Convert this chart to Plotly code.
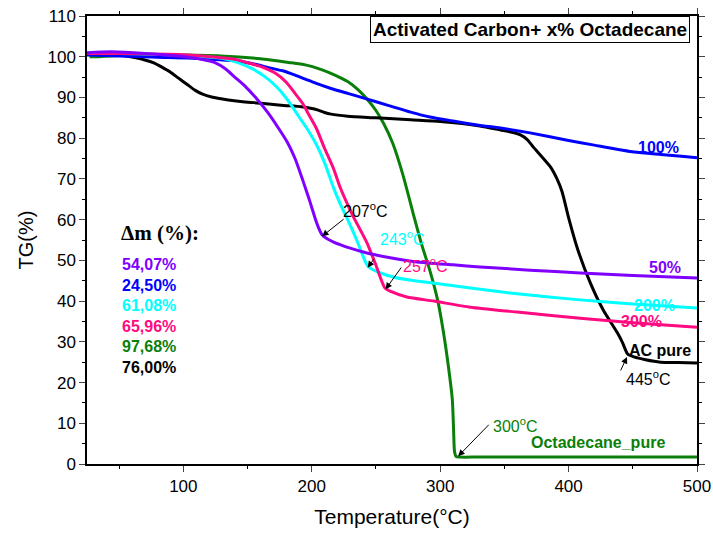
import plotly.graph_objects as go

# ---- data ----
T_ac = [25, 40, 51.5, 60, 70, 77, 83, 90, 96, 103, 109, 115, 122, 135, 148, 160.6, 176, 192, 198, 205, 210, 215, 228, 250, 277, 300, 331, 347, 355, 362.5, 368, 372.6, 379, 386, 391, 395, 400, 407, 417, 427, 438, 442, 446, 451, 460, 471.6, 485, 500]
TG_ac = [100.7, 100.7, 100.4, 99.9, 99.2, 98.5, 97.5, 96.2, 94.8, 93.2, 91.8, 90.8, 90.1, 89.4, 88.9, 88.6, 88.1, 87.7, 87.4, 86.9, 86.3, 85.9, 85.4, 85.0, 84.5, 84.1, 83.0, 82.0, 81.5, 80.8, 79.6, 77.8, 75.5, 72.9, 70.0, 66.8, 60.5, 52.8, 44.4, 37.8, 32.2, 29.8, 27.0, 26.3, 25.6, 25.0, 24.9, 24.8]

T_100 = [25, 50, 80, 104, 125, 143, 155, 168, 178, 187, 195, 203, 215, 228, 240, 260, 277, 292, 310, 330, 347, 370, 399, 420, 451, 472, 490, 500]
TG_100 = [100.4, 100.2, 99.9, 99.7, 99.3, 98.9, 98.2, 97.2, 96.5, 95.5, 94.5, 93.5, 92.2, 91.0, 89.9, 88.0, 86.4, 85.2, 84.2, 83.2, 82.5, 81.3, 79.5, 78.3, 76.6, 76.0, 75.5, 75.2]

T_50 = [25, 44, 70, 104, 115, 125, 133, 140, 148, 156, 166, 174, 181, 187, 193, 198, 203, 206, 208, 212, 217, 230, 243, 260, 282, 310, 331, 370, 409, 450, 500]
TG_50 = [101.0, 101.2, 100.8, 99.9, 99.3, 98.5, 97.0, 95.0, 92.8, 90.1, 86.2, 82.5, 79.0, 75.0, 69.7, 65.0, 60.0, 57.5, 56.3, 55.3, 54.5, 53.0, 51.8, 50.7, 49.6, 48.9, 48.4, 47.6, 46.9, 46.3, 45.7]

T_200 = [25, 50, 100, 130, 143, 154, 164, 172, 179, 185, 189.5, 196, 203, 210, 217, 222, 228, 235, 240, 243, 246, 253.5, 265, 280, 300, 323.5, 360, 409, 450, 500]
TG_200 = [100.8, 100.8, 100.3, 99.6, 98.5, 97.0, 95.0, 92.8, 90.3, 87.7, 85.5, 82.5, 78.8, 74.0, 67.8, 64.0, 60.0, 55.0, 51.0, 48.9, 48.0, 46.9, 45.8, 45.0, 44.2, 43.2, 41.8, 40.3, 39.3, 38.3]

T_300 = [25, 50, 100, 140, 150.5, 162, 171.5, 180, 187, 193, 197, 203.5, 210, 217, 222, 232, 243, 250, 257, 262, 274, 295, 323.5, 360, 409, 450, 500]
TG_300 = [100.8, 100.8, 100.5, 99.4, 98.5, 97.4, 96.0, 93.8, 91.0, 88.5, 86.2, 82.5, 77.5, 72.5, 68.0, 61.0, 54.3, 48.8, 43.2, 42.3, 41.0, 40.0, 38.5, 37.3, 35.8, 34.7, 33.6]

T_oct = [27, 33, 60, 100, 129, 160, 182, 195, 207, 218, 228, 236, 243, 250, 256, 263, 271, 279, 286, 292, 298, 302.5, 306.4, 309.5, 310.5, 311.2, 312.5, 315, 330, 400, 500]
TG_oct = [100.0, 100.0, 100.5, 100.4, 100.2, 99.5, 98.6, 98.0, 96.9, 95.5, 93.9, 91.9, 89.6, 86.8, 83.6, 78.8, 71.0, 61.5, 53.5, 47.5, 40.3, 32.5, 24.0, 15.7, 8.0, 3.0, 1.8, 1.7, 1.7, 1.7, 1.7]

series = [
    ("Octadecane_pure", T_oct, TG_oct, "#0a800a"),
    ("AC pure", T_ac, TG_ac, "#000000"),
    ("100%", T_100, TG_100, "#0000ff"),
    ("200%", T_200, TG_200, "#00ffff"),
    ("300%", T_300, TG_300, "#ff0a80"),
    ("50%", T_50, TG_50, "#8000ff"),
]

dm_labels = ["54,07%", "24,50%", "61,08%", "65,96%", "97,68%", "76,00%"]
dm_colors = ["#8000ff", "#0000ff", "#00ffff", "#ff0a80", "#0a800a", "#000000"]

x_ticks = [100, 200, 300, 400, 500]
y_ticks = list(range(0, 111, 10))

fig = go.Figure()
for name, xs, ys, col in series:
    fig.add_trace(go.Scatter(x=xs, y=ys, mode="lines", name=name,
                             line=dict(color=col, width=3, shape="spline", smoothing=0.6),
                             showlegend=False))

ann = []
F = "Liberation Sans, Arial, sans-serif"
# curve labels
curve_labels = [
    ("100%", 470, 77.8, "#0000ff"),
    ("50%", 475, 48.3, "#8000ff"),
    ("200%", 467, 39.0, "#00ffff"),
    ("300%", 457, 35.0, "#ff0a80"),
    ("AC pure", 471, 27.8, "#000000"),
    ("Octadecane_pure", 423, 5.2, "#0a800a"),
]
for t, x, y, c in curve_labels:
    ann.append(dict(x=x, y=y, text="<b>%s</b>" % t, showarrow=False,
                    font=dict(family=F, size=16, color=c)))

# temperature annotations (text)
temp_txt = [
    ("207<sup>o</sup>C", 242, 62.4, "#000000"),
    ("243<sup>o</sup>C", 270.5, 55.4, "#00ffff"),
    ("257<sup>o</sup>C", 288.5, 48.8, "#ff0a80"),
    ("445<sup>o</sup>C", 462, 21.0, "#000000"),
    ("300<sup>o</sup>C", 359, 9.6, "#0a800a"),
]
for t, x, y, c in temp_txt:
    ann.append(dict(x=x, y=y, text=t, showarrow=False,
                    font=dict(family=F, size=16, color=c)))

# arrows: (tail_x, tail_y, head_x, head_y)
arrows = [
    (226, 60.4, 208, 55.9),
    (249.5, 50.8, 243.5, 48.2),
    (270.5, 48.6, 257.5, 42.9),
    (440, 22.6, 445.5, 26.3),
    (339, 10.0, 314, 1.9),
]
for tx, ty, hx, hy in arrows:
    ann.append(dict(x=hx, y=hy, ax=tx, ay=ty, axref="x", ayref="y", xref="x", yref="y",
                    text="", showarrow=True, arrowhead=2, arrowsize=1.3, arrowwidth=1,
                    arrowcolor="#000000", standoff=0, startstandoff=0))

# Delta m block
ann.append(dict(x=50, y=56.8, xanchor="left", text="<b>Δm (%):</b>", showarrow=False,
                font=dict(family="Liberation Serif, Times New Roman, serif", size=21, color="#000")))
for i, (t, c) in enumerate(zip(dm_labels, dm_colors)):
    ann.append(dict(x=50.5, y=49.0 - i * 5.06, xanchor="left", text="<b>%s</b>" % t,
                    showarrow=False, font=dict(family=F, size=16, color=c)))

# title box
ann.append(dict(x=0.9885, y=1.0, xref="paper", yref="paper", xanchor="right", yanchor="top",
                text="<b>Activated Carbon+ x% Octadecane</b>", showarrow=False,
                font=dict(family=F, size=19, color="#000"),
                bordercolor="#000", borderwidth=1, borderpad=2, bgcolor="white"))

fig.update_layout(
    width=713, height=534,
    margin=dict(l=87, r=16, t=16, b=70),
    paper_bgcolor="white", plot_bgcolor="white",
    annotations=ann,
    font=dict(family=F, size=17, color="#000"),
)
fig.update_xaxes(range=[25, 500], tickvals=x_ticks, ticks="outside", ticklen=6, tickwidth=1,
                 showline=True, linecolor="#000", linewidth=1.5, mirror="ticks", showgrid=False,
                 zeroline=False, automargin=False,
                 minor=dict(dtick=50, tick0=0, ticks="outside", ticklen=3, tickcolor="#000"),
                 title=dict(text="Temperature(°C)", font=dict(size=21), standoff=14),
                 tickfont=dict(size=17))
fig.update_yaxes(range=[0, 110], tickvals=y_ticks, ticks="outside", ticklen=6, tickwidth=1,
                 showline=True, linecolor="#000", linewidth=1.5, mirror="ticks", showgrid=False,
                 zeroline=False, automargin=False,
                 minor=dict(dtick=5, tick0=0, ticks="outside", ticklen=3, tickcolor="#000"),
                 title=dict(text="TG(%)", font=dict(size=20), standoff=8),
                 tickfont=dict(size=17))

fig.write_html("out.html")
